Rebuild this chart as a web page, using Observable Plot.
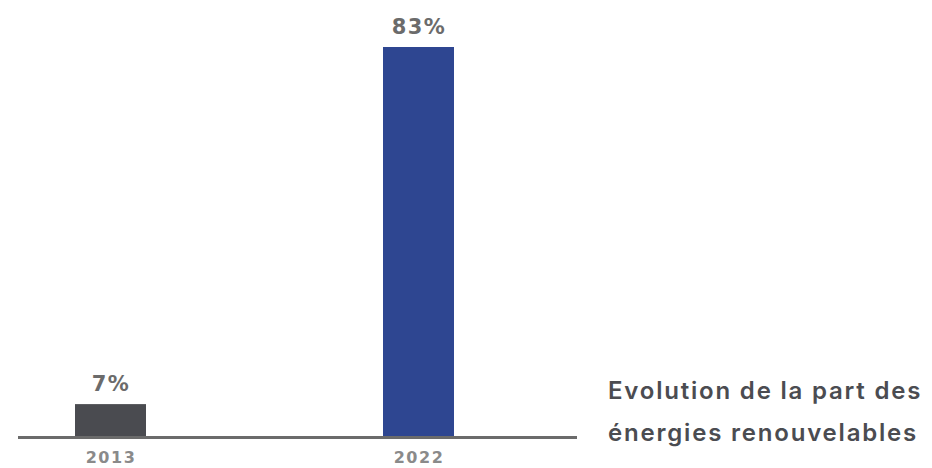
<!DOCTYPE html>
<html>
<head>
<meta charset="utf-8">
<script src="https://cdn.jsdelivr.net/npm/d3@7"></script>
<script src="https://cdn.jsdelivr.net/npm/@observablehq/plot@0.6"></script>
<style>
  html, body { margin: 0; padding: 0; background: #fff; }
  #wrap { position: relative; width: 932px; height: 468px; }
  #title {
    position: absolute; left: 608px; top: 370px;
    font-family: Inter, "Noto Sans", sans-serif; font-weight: 600;
    font-size: 24px; line-height: 42px; letter-spacing: 1.8px; color: #4b4c51; white-space: nowrap;
  }
  #chart svg text { letter-spacing: 1.5px; }
</style>
</head>
<body>
<div id="wrap">
  <div id="chart"></div>
  <div id="title">Evolution de la part des<br>énergies renouvelables</div>
</div>
<script>
const years = ["2013", "2022"];
const shares = [7, 83];
const barColors = ["#4a4b50", "#2e4691"];
const labels = ["7%", "83%"];

const data = years.map((y, i) => ({year: y, share: shares[i], color: barColors[i], label: labels[i]}));

const chart = Plot.plot({
  width: 932,
  height: 468,
  marginLeft: 18,
  marginRight: 355,
  marginTop: 47,
  marginBottom: 31,
  style: {fontFamily: "'DejaVu Sans', sans-serif", background: "#fff"},
  x: {domain: years, range: [75, 454], paddingInner: 0.77, paddingOuter: 0, axis: null},
  y: {domain: [0, 83], axis: null},
  marks: [
    Plot.barY(data, {x: "year", y: "share", fill: "color"}),
    Plot.ruleY([0], {stroke: "#6b6b6b", strokeWidth: 3}),
    Plot.text(data, {x: "year", y: "share", text: "label", dy: -20, fontSize: 21, fontWeight: "bold", fill: "#6b6b6b"}),
    Plot.text(data, {x: "year", y: 0, text: "year", dy: 20, fontSize: 16, fontWeight: "bold", fill: "#8a8a8a"})
  ]
});
document.getElementById("chart").appendChild(chart);
</script>
</body>
</html>
